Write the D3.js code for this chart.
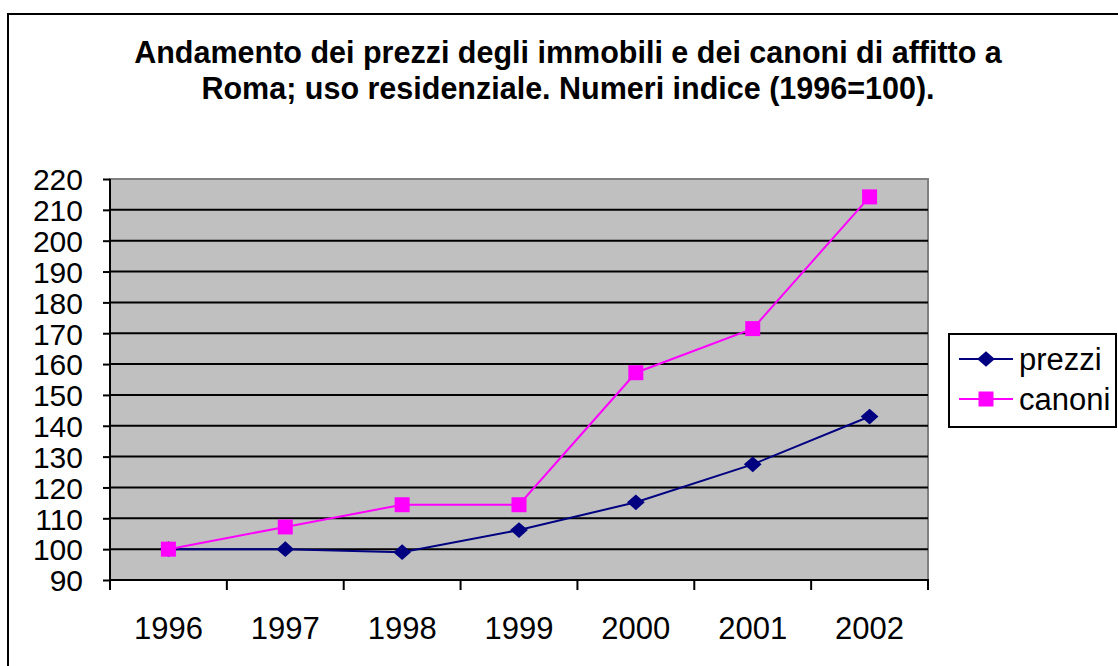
<!DOCTYPE html>
<html>
<head>
<meta charset="utf-8">
<script src="https://d3js.org/d3.v7.min.js"></script>
<style>
  body { margin: 0; background: #fff; }
  svg { display: block; font-family: "Liberation Sans", Arial, sans-serif; }
  .axis path { display: none; }
  .axis text { fill: #000; }
</style>
</head>
<body>
<svg id="chart" width="1118" height="666"></svg>
<script>
// data
const years = ["1996", "1997", "1998", "1999", "2000", "2001", "2002"];
const prezzi = [100, 100, 99, 106.2, 115.2, 127.5, 143];
const canoni = [100, 107.2, 114.4, 114.4, 157.2, 171.5, 214.2];
const yTicks = [90, 100, 110, 120, 130, 140, 150, 160, 170, 180, 190, 200, 210, 220];
const titleLines = [
  "Andamento dei prezzi degli immobili e dei canoni di affitto a",
  "Roma; uso residenziale. Numeri indice (1996=100)."
];
const series = [
  {name: "prezzi", values: prezzi, color: "#000080", marker: "diamond"},
  {name: "canoni", values: canoni, color: "#ff00ff", marker: "square"}
];

const plot = {left: 110, top: 179, right: 928, bottom: 580};

const svg = d3.select("#chart");

// excel-like diamond, a little wider than tall
const wideDiamond = {
  draw(ctx, size) {
    const w = Math.sqrt(size) * 0.53, h = Math.sqrt(size) * 0.47;
    ctx.moveTo(-w, 0);
    ctx.lineTo(0, -h);
    ctx.lineTo(w, 0);
    ctx.lineTo(0, h);
    ctx.closePath();
  }
};
const markerPath = m => m === "square"
  ? d3.symbol().type(d3.symbolSquare).size(225)()
  : d3.symbol().type(wideDiamond).size(280)();

// outer chart frame (runs off the page on the right and bottom)
svg.append("rect")
  .attr("x", 8).attr("y", 14)
  .attr("width", 1140).attr("height", 700)
  .attr("fill", "#fff")
  .attr("stroke", "#000")
  .attr("stroke-width", 2);

// title
svg.append("text")
  .attr("text-anchor", "middle")
  .attr("font-weight", "bold")
  .attr("font-size", 30.5)
  .selectAll("tspan")
  .data(titleLines)
  .enter().append("tspan")
  .attr("x", 568)
  .attr("y", (d, i) => 63 + i * 36)
  .text(d => d);

const x = d3.scaleBand()
  .domain(years)
  .range([plot.left, plot.right]);

const y = d3.scaleLinear()
  .domain([90, 220])
  .range([plot.bottom, plot.top]);

// plot area
svg.append("rect")
  .attr("x", plot.left).attr("y", plot.top)
  .attr("width", plot.right - plot.left)
  .attr("height", plot.bottom - plot.top)
  .attr("fill", "#c0c0c0")
  .attr("stroke", "#808080")
  .attr("stroke-width", 2);

// gridlines
svg.append("g")
  .selectAll("line")
  .data(yTicks.filter(d => d > 90 && d < 220))
  .enter().append("line")
  .attr("x1", plot.left).attr("x2", plot.right)
  .attr("y1", d => y(d)).attr("y2", d => y(d))
  .attr("stroke", "#000")
  .attr("stroke-width", 2);

// y axis
const yAxis = svg.append("g")
  .attr("class", "axis")
  .attr("transform", "translate(" + plot.left + ",0)")
  .call(d3.axisLeft(y).tickValues(yTicks).tickSize(7).tickPadding(20));
yAxis.selectAll("line").attr("stroke", "#000").attr("stroke-width", 2);
yAxis.selectAll("text").attr("font-size", 30).attr("dy", "0.36em");

svg.append("line")
  .attr("x1", plot.left).attr("x2", plot.left)
  .attr("y1", plot.top).attr("y2", plot.bottom)
  .attr("stroke", "#000").attr("stroke-width", 2);

// x axis
svg.append("line")
  .attr("x1", plot.left - 1).attr("x2", plot.right + 1)
  .attr("y1", plot.bottom).attr("y2", plot.bottom)
  .attr("stroke", "#000").attr("stroke-width", 2);

const edges = years.map(d => x(d)).concat([x(years[years.length - 1]) + x.bandwidth()]);
svg.append("g")
  .selectAll("line")
  .data(edges)
  .enter().append("line")
  .attr("x1", d => d).attr("x2", d => d)
  .attr("y1", plot.bottom).attr("y2", plot.bottom + 10)
  .attr("stroke", "#000").attr("stroke-width", 2);

const xAxis = svg.append("g")
  .attr("class", "axis")
  .attr("transform", "translate(0," + plot.bottom + ")")
  .call(d3.axisBottom(x).tickSize(0).tickPadding(37));
xAxis.selectAll("line").remove();
xAxis.selectAll("text").attr("font-size", 31);

// series
const line = d3.line()
  .x((d, i) => x(years[i]) + x.bandwidth() / 2)
  .y(d => y(d));

series.forEach(s => {
  svg.append("path")
    .attr("d", line(s.values))
    .attr("fill", "none")
    .attr("stroke", s.color)
    .attr("stroke-width", 2);
  svg.append("g")
    .selectAll("path")
    .data(s.values)
    .enter().append("path")
    .attr("transform", (d, i) => "translate(" + (x(years[i]) + x.bandwidth() / 2) + "," + y(d) + ")")
    .attr("d", markerPath(s.marker))
    .attr("fill", s.color);
});

// legend
const legend = svg.append("g");
legend.append("rect")
  .attr("x", 949).attr("y", 334)
  .attr("width", 167).attr("height", 93)
  .attr("fill", "#fff")
  .attr("stroke", "#000")
  .attr("stroke-width", 2);

const item = legend.selectAll(".item")
  .data(series)
  .enter().append("g")
  .attr("class", "item")
  .attr("transform", (d, i) => "translate(0," + (359 + i * 40) + ")");
item.append("line")
  .attr("x1", 959).attr("x2", 1013)
  .attr("stroke", d => d.color)
  .attr("stroke-width", 2);
item.append("path")
  .attr("transform", "translate(986,0)")
  .attr("d", d => markerPath(d.marker))
  .attr("fill", d => d.color);
item.append("text")
  .attr("x", 1019)
  .attr("dy", "0.36em")
  .attr("font-size", 31)
  .text(d => d.name);
</script>
</body>
</html>
